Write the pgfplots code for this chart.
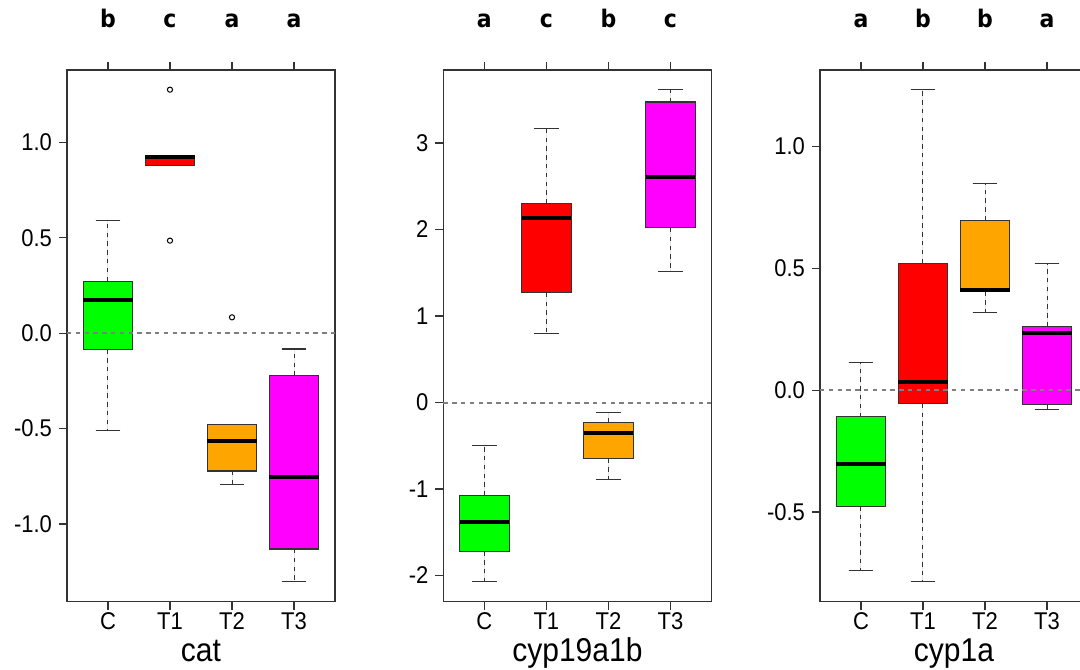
\documentclass[border=0pt]{standalone}
\usepackage{fontspec}
\setmainfont{Liberation Sans}
\newfontfamily\letterfont{DejaVu Sans}
\usepackage{graphicx}
\usepackage{pgfplots}
\pgfplotsset{compat=1.18}
\usepgfplotslibrary{statistics}

\definecolor{BoxC}{HTML}{00FF00}
\definecolor{BoxT1}{HTML}{FF0000}
\definecolor{BoxT2}{HTML}{FFA500}
\definecolor{BoxT3}{HTML}{FF00FF}
\definecolor{Frame}{HTML}{333333}
\definecolor{Zero}{HTML}{7F7F7F}

% the reference text is a little stretched vertically
\newcommand\vs[1]{\scalebox{1}[1.1]{#1}}

\pgfplotsset{
  panel/.style={
    scale only axis,
    width=134pt, height=265.75pt,
    anchor=south west,
    clip=false,
    xmin=0.34, xmax=4.66,
    xtick={1,2,3,4},
    xticklabels={\vs{C},\vs{T1},\vs{T2},\vs{T3}},
    xtick pos=both,
    xticklabel pos=lower,
    ytick pos=left,
    tick align=outside,
    major tick length=4pt,
    axis line style={Frame, line width=0.6pt},
    tick style={Frame, line width=0.6pt},
    tick label style={font=\fontsize{11}{11}\selectfont, black},
    xticklabel style={inner sep=0.5pt, yshift=-1pt},
    xlabel style={font=\fontsize{15}{15}\selectfont, inner sep=0pt,
      at={(axis description cs:0.5,0)}, anchor=base, yshift=-30pt},
    boxplot/draw direction=y,
    boxplot/box extend=0.8,
    boxplot/whisker extend=0.4,
    boxplot/every median/.style={black, line width=2pt},
    boxplot/draw/lower whisker/.code={%
      \draw[Frame, line width=0.5pt, dash pattern=on 2.2pt off 2.2pt]
        (boxplot cs:\pgfplotsboxplotvalue{lower quartile}) --
        (boxplot cs:\pgfplotsboxplotvalue{lower whisker});
      \draw[Frame, line width=0.55pt]
        (boxplot whisker cs:\pgfplotsboxplotvalue{lower whisker},0) --
        (boxplot whisker cs:\pgfplotsboxplotvalue{lower whisker},1);
    },
    boxplot/draw/upper whisker/.code={%
      \draw[Frame, line width=0.5pt, dash pattern=on 2.2pt off 2.2pt]
        (boxplot cs:\pgfplotsboxplotvalue{upper quartile}) --
        (boxplot cs:\pgfplotsboxplotvalue{upper whisker});
      \draw[Frame, line width=0.55pt]
        (boxplot whisker cs:\pgfplotsboxplotvalue{upper whisker},0) --
        (boxplot whisker cs:\pgfplotsboxplotvalue{upper whisker},1);
    },
  },
  bx/.style={draw=Frame, line width=0.55pt, fill=#1,
    mark=o, mark size=1.3pt, mark options={black, solid, line width=0.5pt, fill=none}},
  zeroline/.style={Zero, line width=1pt, dash pattern=on 2.2pt off 2.2pt},
}
\newcommand\grp{\letterfont\bfseries\fontsize{11}{11}\selectfont}

\begin{document}
\begin{tikzpicture}
\path[use as bounding box] (0,0) rectangle (540pt,334.5pt);

% cat
\begin{axis}[panel, at={(33.5pt,33.75pt)}, xlabel={\vs{cat}},
  ymin=-1.406, ymax=1.379,
  ytick={-1,-0.5,0,0.5,1}, yticklabels={\vs{-1.0},\vs{-0.5},\vs{0.0},\vs{0.5},\vs{1.0}}]
  \addplot[bx=BoxC, boxplot prepared={draw position=1,
    lower whisker=-0.512, lower quartile=-0.085, median=0.172,
    upper quartile=0.273, upper whisker=0.590}] coordinates {};
  \addplot[bx=BoxT1, boxplot prepared={draw position=2,
    lower whisker=0.877, lower quartile=0.877, median=0.921,
    upper quartile=0.932, upper whisker=0.932}] table[row sep=\\, y index=0] {1.276\\ 0.485\\};
  \addplot[bx=BoxT2, boxplot prepared={draw position=3,
    lower whisker=-0.791, lower quartile=-0.722, median=-0.565,
    upper quartile=-0.480, upper whisker=-0.480}] table[row sep=\\, y index=0] {0.083\\};
  \addplot[bx=BoxT3, boxplot prepared={draw position=4,
    lower whisker=-1.303, lower quartile=-1.131, median=-0.755,
    upper quartile=-0.223, upper whisker=-0.083}] coordinates {};
  \addplot[zeroline] coordinates {(0.34,0) (4.66,0)};
  \node[font=\grp, anchor=base, yshift=21.3pt] at (axis cs:1,1.379) {\vs{b}};
  \node[font=\grp, anchor=base, yshift=21.3pt] at (axis cs:2,1.379) {\vs{c}};
  \node[font=\grp, anchor=base, yshift=21.3pt] at (axis cs:3,1.379) {\vs{a}};
  \node[font=\grp, anchor=base, yshift=21.3pt] at (axis cs:4,1.379) {\vs{a}};
\end{axis}

% cyp19a1b
\begin{axis}[panel, at={(221.7pt,33.75pt)}, xlabel={\vs{cyp19a1b}},
  ymin=-2.300, ymax=3.843,
  ytick={-2,-1,0,1,2,3}, yticklabels={\vs{-2},\vs{-1},\vs{0},\vs{1},\vs{2},\vs{3}}]
  \addplot[bx=BoxC, boxplot prepared={draw position=1,
    lower whisker=-2.072, lower quartile=-1.722, median=-1.376,
    upper quartile=-1.075, upper whisker=-0.498}] coordinates {};
  \addplot[bx=BoxT1, boxplot prepared={draw position=2,
    lower whisker=0.799, lower quartile=1.268, median=2.131,
    upper quartile=2.299, upper whisker=3.172}] coordinates {};
  \addplot[bx=BoxT2, boxplot prepared={draw position=3,
    lower whisker=-0.888, lower quartile=-0.646, median=-0.350,
    upper quartile=-0.227, upper whisker=-0.113}] coordinates {};
  \addplot[bx=BoxT3, boxplot prepared={draw position=4,
    lower whisker=1.510, lower quartile=2.018, median=2.605,
    upper quartile=3.473, upper whisker=3.616}] coordinates {};
  \addplot[zeroline] coordinates {(0.34,0) (4.66,0)};
  \node[font=\grp, anchor=base, yshift=21.3pt] at (axis cs:1,3.843) {\vs{a}};
  \node[font=\grp, anchor=base, yshift=21.3pt] at (axis cs:2,3.843) {\vs{c}};
  \node[font=\grp, anchor=base, yshift=21.3pt] at (axis cs:3,3.843) {\vs{b}};
  \node[font=\grp, anchor=base, yshift=21.3pt] at (axis cs:4,3.843) {\vs{c}};
\end{axis}

% cyp1a
\begin{axis}[panel, at={(410pt,33.75pt)}, xlabel={\vs{cyp1a}},
  ymin=-0.867, ymax=1.313,
  ytick={-0.5,0,0.5,1}, yticklabels={\vs{-0.5},\vs{0.0},\vs{0.5},\vs{1.0}}]
  \addplot[bx=BoxC, boxplot prepared={draw position=1,
    lower whisker=-0.738, lower quartile=-0.476, median=-0.304,
    upper quartile=-0.110, upper whisker=0.112}] coordinates {};
  \addplot[bx=BoxT1, boxplot prepared={draw position=2,
    lower whisker=-0.786, lower quartile=-0.056, median=0.033,
    upper quartile=0.521, upper whisker=1.232}] coordinates {};
  \addplot[bx=BoxT2, boxplot prepared={draw position=3,
    lower whisker=0.318, lower quartile=0.405, median=0.412,
    upper quartile=0.696, upper whisker=0.847}] coordinates {};
  \addplot[bx=BoxT3, boxplot prepared={draw position=4,
    lower whisker=-0.080, lower quartile=-0.058, median=0.234,
    upper quartile=0.261, upper whisker=0.520}] coordinates {};
  \addplot[zeroline] coordinates {(0.34,0) (4.66,0)};
  \node[font=\grp, anchor=base, yshift=21.3pt] at (axis cs:1,1.313) {\vs{a}};
  \node[font=\grp, anchor=base, yshift=21.3pt] at (axis cs:2,1.313) {\vs{b}};
  \node[font=\grp, anchor=base, yshift=21.3pt] at (axis cs:3,1.313) {\vs{b}};
  \node[font=\grp, anchor=base, yshift=21.3pt] at (axis cs:4,1.313) {\vs{a}};
\end{axis}
\end{tikzpicture}
\end{document}
